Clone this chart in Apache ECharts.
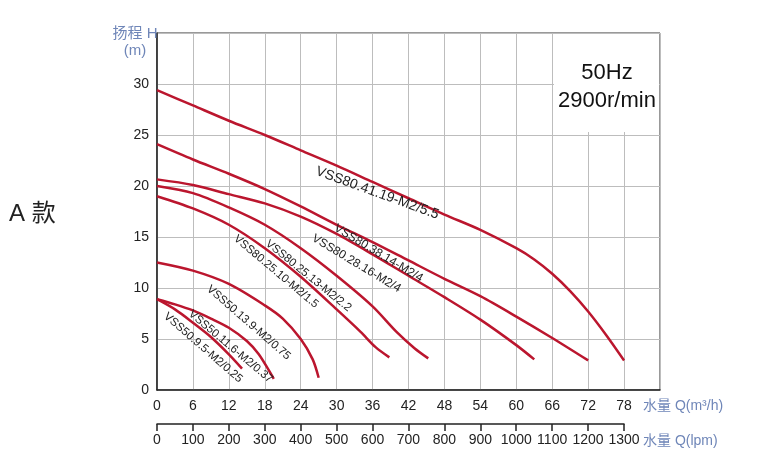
<!DOCTYPE html>
<html>
<head>
<meta charset="utf-8">
<title>性能曲线</title>
<script src="https://cdn.jsdelivr.net/npm/echarts@6/dist/echarts.min.js"></script>
<style>
    html, body { margin: 0; padding: 0; background: #fff; }
    #main { width: 760px; height: 461px; }
</style>
</head>
<body>
<div id="main"></div>
<script>
// 流量刻度 (m³/h) 和 (lpm)
var qTicks = [0, 6, 12, 18, 24, 30, 36, 42, 48, 54, 60, 66, 72, 78];
var lpmTicks = [0, 100, 200, 300, 400, 500, 600, 700, 800, 900, 1000, 1100, 1200, 1300];
var hTicks = [0, 5, 10, 15, 20, 25, 30];

// 各型号曲线: 流量 Q (m³/h) / 扬程 H (m)
var q_41_19 = [0, 6, 12, 18, 24, 30, 36, 42, 48, 54, 60, 63, 66, 69, 72, 75, 78];
var h_41_19 = [29.4, 27.9, 26.4, 25.0, 23.5, 22.0, 20.4, 18.8, 17.2, 15.7, 13.9, 12.8, 11.4, 9.7, 7.7, 5.4, 2.9];

var q_38_14 = [0, 6, 12, 18, 24, 30, 36, 42, 48, 54, 60, 66, 72];
var h_38_14 = [24.1, 22.6, 21.2, 19.7, 18.0, 16.2, 14.5, 12.7, 10.9, 9.2, 7.2, 5.1, 2.9];

var q_28_16 = [0, 6, 12, 18, 24, 30, 36, 42, 48, 54, 60, 63];
var h_28_16 = [20.65, 20.1, 19.2, 18.3, 17.0, 15.3, 13.3, 11.2, 9.1, 6.9, 4.4, 3.0];

var q_25_13 = [0, 6, 12, 18, 24, 30, 36, 40, 43, 45.3];
var h_25_13 = [20.0, 19.3, 17.9, 16.2, 13.9, 11.2, 8.2, 5.7, 4.1, 3.1];

var q_25_10 = [0, 6, 12, 18, 24, 30, 34, 36.5, 38.8];
var h_25_10 = [19.0, 17.8, 16.2, 13.9, 11.1, 7.9, 5.7, 4.2, 3.2];

var q_13_9 = [0, 6, 12, 18, 21, 24, 26, 27];
var h_13_9 = [12.5, 11.7, 10.4, 8.3, 7.0, 5.0, 3.0, 1.2];

var q_11_6 = [0, 3, 6, 9, 12, 15, 17, 19.5];
var h_11_6 = [8.9, 8.4, 7.8, 7.0, 6.1, 4.8, 3.5, 1.1];

var q_9_5 = [0, 3, 6, 9, 12, 14.2];
var h_9_5 = [8.9, 7.9, 6.6, 5.2, 3.5, 2.1];

var names = ['VSS80.41.19-M2/5.5', 'VSS80.38.14-M2/4', 'VSS80.28.16-M2/4', 'VSS80.25.13-M2/2.2',
    'VSS80.25.10-M2/1.5', 'VSS50.13.9-M2/0.75', 'VSS50.11.6-M2/0.37', 'VSS50.9.5-M2/0.25'];
var qList = [q_41_19, q_38_14, q_28_16, q_25_13, q_25_10, q_13_9, q_11_6, q_9_5];
var hList = [h_41_19, h_38_14, h_28_16, h_25_13, h_25_10, h_13_9, h_11_6, h_9_5];

// 标注位置 [Q, H, 角度, 字号]
var labelAt = [
    [36.8, 19.3, -20, 14],
    [37.0, 13.4, -31, 12],
    [33.3, 12.4, -31, 12],
    [25.3, 11.2, -39, 11.5],
    [19.9, 11.6, -40, 11.5],
    [15.3, 6.6, -41, 11.5],
    [12.3, 4.25, -40, 11.5],
    [7.7, 4.15, -41, 11.5]
];

var lineColor = '#bb162e';
var blueText = '#6f86b8';
var fontFam = 'Arial, "Liberation Sans", "Noto Sans CJK SC", sans-serif';

var chart = echarts.init(document.getElementById('main'));

var series = [];
for (var i = 0; i < names.length; i++) {
    var pts = [];
    for (var j = 0; j < qList[i].length; j++) {
        pts.push([qList[i][j], hList[i][j]]);
    }
    series.push({
        name: names[i],
        type: 'line',
        xAxisIndex: 0,
        yAxisIndex: 0,
        smooth: 0.3,
        showSymbol: false,
        symbol: 'none',
        lineStyle: { color: lineColor, width: 2.5 },
        data: pts,
        z: 3,
        markPoint: {
            symbol: 'circle',
            symbolSize: 0,
            silent: true,
            data: [{
                coord: [labelAt[i][0], labelAt[i][1]],
                value: names[i],
                label: {
                    show: true,
                    formatter: names[i],
                    position: 'inside',
                    rotate: labelAt[i][2],
                    align: 'center',
                    verticalAlign: 'middle',
                    color: '#222',
                    fontSize: labelAt[i][3],
                    fontFamily: fontFam
                }
            }]
        }
    });
}

var option = {
    animation: false,
    backgroundColor: '#fff',
    textStyle: { fontFamily: fontFam },
    grid: [
        { left: 157, top: 33, right: 100, bottom: 71, show: true, borderColor: '#333', borderWidth: 1, containLabel: false },
        { left: 157, width: 467, top: 424, height: 0, containLabel: false }
    ],
    xAxis: [
        {
            gridIndex: 0,
            type: 'value',
            min: 0,
            max: 84,
            interval: 6,
            axisLine: { show: true, lineStyle: { color: '#222', width: 1.5 } },
            axisTick: { show: false },
            axisLabel: {
                color: '#222', fontSize: 14, margin: 9,
                formatter: function (v) { return qTicks.indexOf(v) >= 0 ? String(v) : ''; }
            },
            splitLine: { show: true, lineStyle: { color: '#bdbdbd', width: 1 } }
        },
        {
            gridIndex: 1,
            type: 'value',
            min: 0,
            max: 1300,
            interval: 100,
            position: 'bottom',
            axisLine: { show: true, onZero: false, lineStyle: { color: '#222', width: 1.5 } },
            axisTick: { show: true, length: 7, lineStyle: { color: '#222', width: 1.5 } },
            axisLabel: {
                color: '#222', fontSize: 14, margin: 9,
                formatter: function (v) { return lpmTicks.indexOf(v) >= 0 ? String(v) : ''; }
            },
            splitLine: { show: false }
        }
    ],
    yAxis: [
        {
            gridIndex: 0,
            type: 'value',
            min: 0,
            max: 35,
            interval: 5,
            axisLine: { show: true, lineStyle: { color: '#222', width: 1.5 } },
            axisTick: { show: false },
            axisLabel: {
                color: '#222', fontSize: 14, margin: 8,
                formatter: function (v) { return hTicks.indexOf(v) >= 0 ? String(v) : ''; }
            },
            splitLine: { show: true, lineStyle: { color: '#bdbdbd', width: 1 } }
        },
        {
            gridIndex: 1,
            type: 'value',
            show: false
        }
    ],
    graphic: [
        // 右上角频率说明
        { type: 'rect', shape: { x: 554, y: 34, width: 105, height: 98 }, style: { fill: '#fff' }, z: 5 },
        {
            type: 'text', x: 607, y: 87, z: 6,
            style: {
                text: '50Hz\n2900r/min', fill: '#111', font: '22px ' + fontFam,
                align: 'center', verticalAlign: 'middle', lineHeight: 28
            }
        },
        {
            type: 'text', x: 135, y: 42, z: 6,
            style: {
                text: '扬程 H\n(m)', fill: blueText, font: '15px ' + fontFam,
                align: 'center', verticalAlign: 'middle', lineHeight: 17
            }
        },
        {
            type: 'text', x: 643, y: 406, z: 6,
            style: { text: '水量 Q(m³/h)', fill: blueText, font: '14px ' + fontFam, align: 'left', verticalAlign: 'middle' }
        },
        {
            type: 'text', x: 643, y: 441, z: 6,
            style: { text: '水量 Q(lpm)', fill: blueText, font: '14px ' + fontFam, align: 'left', verticalAlign: 'middle' }
        },
        {
            type: 'text', x: 9, y: 214, z: 6,
            style: { text: 'A 款', fill: '#222', font: '24px ' + fontFam, align: 'left', verticalAlign: 'middle' }
        }
    ],
    series: series
};

chart.setOption(option);
</script>
</body>
</html>
